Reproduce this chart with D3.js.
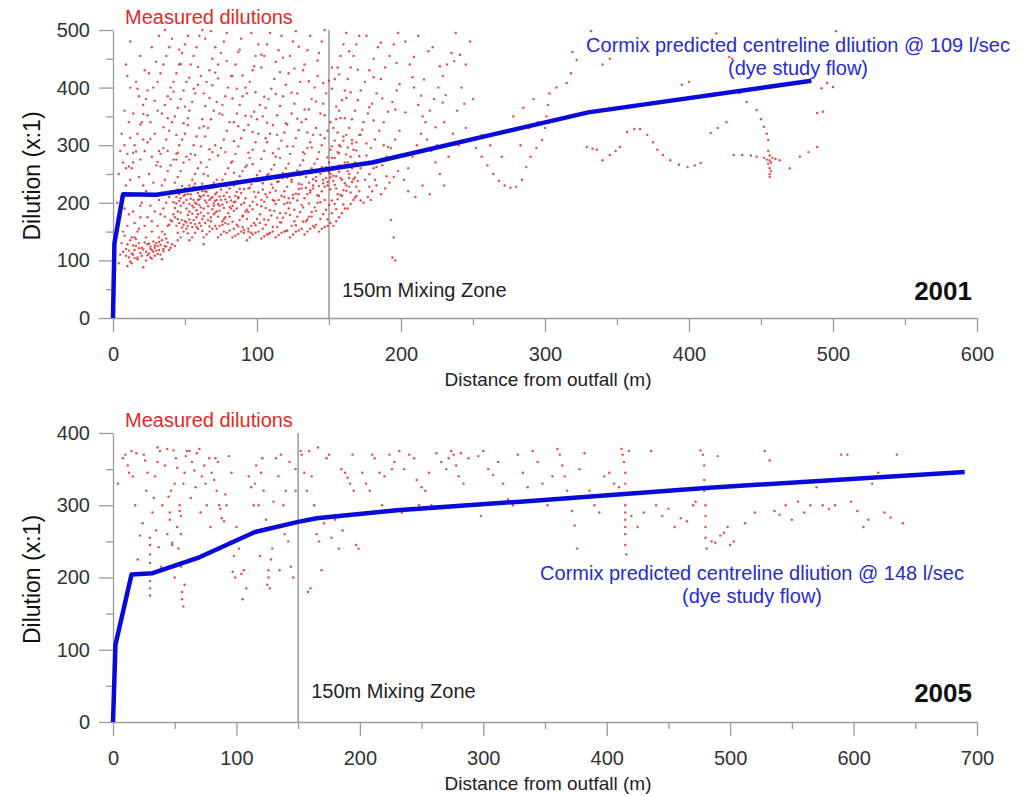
<!DOCTYPE html>
<html>
<head>
<meta charset="utf-8">
<script src="https://cdn.jsdelivr.net/npm/d3@7"></script>
<style>
  body { margin: 0; background: #fff; }
  svg text { font-family: "Liberation Sans", Arial, sans-serif; }
  .axis path, .axis line { stroke: #9a9a9a; stroke-width: 1.3; }
  .axis text { fill: #333; font-size: 20px; }
</style>
</head>
<body>
<div id="chart"></div>
<script>
// ---- 2001 survey ----
var xTicks2001 = [0, 100, 200, 300, 400, 500, 600];
var yTicks2001 = [0, 100, 200, 300, 400, 500];

// cormix predicted centreline dilution, 109 l/sec
var cormix2001 = [[0, 0], [1, 130], [7, 215], [30, 214], [180, 270], [330, 357], [485, 412]];

// measured dilutions near the outfall (dense cloud)
var near2001 = [
  [4,95],[5,110],[6,130],[7,150],[5,175],[8,190],[6,210],[9,230],[4,250],[7,270],[10,285],[8,300],[6,320],[11,105],[9,120],[12,135],[10,160],[11,180],[3,200],[12,240],[9,260],[11,340],[8,360],[12,400],[10,420],[5,290],[7,115],[10,90],[12,480],[9,440],
  [13,95],[14,110],[15,118],[16,125],[18,130],[13,140],[17,150],[15,165],[19,175],[14,185],[20,200],[16,215],[21,230],[18,245],[13,260],[19,275],[22,290],[15,300],[17,320],[20,340],[14,355],[21,370],[18,385],[16,410],[22,430],[19,455],[13,112],[20,122],[17,105],[21,88],[15,140],[22,160],[19,195],[14,270],[21,310],
  [23,100],[25,112],[27,118],[29,122],[31,125],[24,128],[26,120],[28,115],[30,130],[32,118],[23,140],[27,150],[31,160],[24,175],[29,185],[26,195],[32,205],[23,220],[28,235],[25,250],[30,265],[27,280],[32,290],[24,305],[29,320],[26,340],[31,360],[23,380],[28,400],[25,425],[30,445],[27,470],[32,490],[24,395],[31,410],[26,105],[29,108],[32,140],
  [33,110],[35,120],[37,124],[39,118],[41,128],[34,135],[36,145],[38,160],[40,170],[33,180],[35,190],[37,200],[39,210],[41,220],[34,230],[36,240],[38,255],[40,265],[42,275],[33,285],[35,295],[37,310],[39,325],[41,340],[34,355],[36,370],[38,385],[40,400],[42,410],[33,425],[35,440],[37,455],[39,470],[41,485],[36,500],[40,380],[38,290],[42,180],[34,150],
  [43,125],[45,135],[47,140],[49,150],[51,155],[44,160],[46,165],[48,170],[50,168],[52,160],[43,175],[45,185],[47,195],[49,200],[51,205],[44,210],[46,215],[48,220],[50,225],[52,215],[43,235],[45,245],[47,255],[49,270],[51,280],[44,285],[46,300],[48,310],[50,320],[52,335],[43,350],[45,365],[47,380],[49,395],[51,410],[44,425],[46,440],[48,460],[50,475],[52,490],[45,172],[49,162],[47,208],[51,190],[44,275],
  [53,135],[55,140],[57,148],[59,155],[61,160],[54,165],[56,170],[58,175],[60,165],[62,172],[53,185],[55,195],[57,200],[59,205],[61,210],[54,215],[56,205],[58,198],[60,212],[62,220],[53,230],[55,240],[57,250],[59,260],[61,270],[54,285],[56,300],[58,315],[60,330],[62,345],[53,360],[55,375],[57,390],[59,405],[61,420],[54,440],[56,455],[58,470],[60,490],[62,500],[55,158],[59,180],[61,192],[57,225],[53,275],
  [63,140],[65,145],[67,150],[69,155],[71,160],[64,165],[66,170],[68,175],[70,180],[72,185],[63,190],[65,200],[67,205],[69,210],[71,215],[64,220],[66,225],[68,230],[70,235],[72,240],[63,250],[65,262],[67,275],[69,288],[71,300],[64,315],[66,330],[68,345],[70,360],[72,375],[63,390],[65,410],[67,430],[69,450],[71,470],[64,485],[68,498],[70,195],[66,182],[72,205],
  [73,140],[75,145],[77,150],[79,148],[81,152],[74,160],[76,168],[78,175],[80,182],[82,190],[73,198],[75,205],[77,212],[79,218],[81,225],[74,232],[76,240],[78,250],[80,260],[82,270],[73,282],[75,295],[77,310],[79,325],[81,340],[74,355],[76,370],[78,385],[80,400],[82,420],[73,440],[75,460],[77,480],[79,495],[81,210],[74,195],[78,165],
  [83,140],[85,143],[87,146],[89,150],[91,148],[84,155],[86,162],[88,170],[90,178],[92,185],[83,195],[85,202],[87,210],[89,217],[91,224],[84,230],[86,238],[88,246],[90,255],[92,262],[83,272],[85,285],[87,298],[89,312],[91,326],[84,340],[86,355],[88,370],[90,385],[92,400],[83,420],[85,440],[87,462],[89,485],[91,200],[86,190],[90,158],
  [93,135],[95,140],[97,145],[99,148],[101,150],[94,155],[96,160],[98,165],[100,172],[102,180],[93,188],[95,195],[97,202],[99,210],[101,218],[94,225],[96,232],[98,240],[100,248],[102,255],[93,265],[95,278],[97,292],[99,305],[101,320],[94,335],[96,350],[98,358],[100,345],[102,370],[93,390],[95,410],[97,430],[99,455],[101,475],[96,495],[94,150],
  [103,138],[105,142],[107,145],[109,148],[111,150],[104,155],[106,162],[108,170],[110,178],[112,186],[103,194],[105,202],[107,210],[109,218],[111,226],[104,234],[106,242],[108,250],[110,258],[112,266],[103,276],[105,290],[107,305],[109,320],[111,335],[104,350],[106,365],[108,380],[110,398],[112,415],[103,435],[105,455],[107,475],[109,495],[111,205],[106,215],
  [113,140],[115,144],[117,148],[119,150],[121,152],[114,158],[116,166],[118,174],[120,182],[122,190],[113,198],[115,205],[117,212],[119,220],[121,228],[114,236],[116,244],[118,252],[120,260],[122,268],[113,280],[115,294],[117,308],[119,322],[121,336],[114,352],[116,368],[118,385],[120,405],[122,425],[113,445],[115,465],[117,490],[119,210],[121,200],
  [123,140],[125,145],[127,150],[129,152],[131,155],[124,160],[126,168],[128,176],[130,184],[132,192],[123,200],[125,208],[127,216],[129,224],[131,232],[124,240],[126,248],[128,256],[130,265],[132,274],[123,285],[125,298],[127,312],[129,326],[131,340],[124,355],[126,372],[128,390],[130,410],[132,430],[123,455],[125,480],[127,498],[129,215],[131,225],
  [133,145],[135,150],[137,155],[139,160],[141,162],[134,168],[136,176],[138,184],[140,192],[142,200],[133,208],[135,215],[137,222],[139,230],[141,238],[134,245],[136,252],[138,260],[140,268],[142,276],[133,285],[135,295],[137,305],[139,318],[141,330],[134,345],[136,362],[138,380],[140,400],[142,420],[133,440],[135,465],[137,490],[139,225],[141,245],[136,235],
  [143,150],[145,155],[147,158],[149,160],[151,165],[144,172],[146,180],[148,188],[150,196],[152,204],[143,212],[145,220],[147,228],[149,236],[151,244],[144,250],[146,256],[148,262],[150,270],[152,278],[143,288],[145,300],[147,312],[149,325],[151,340],[144,355],[146,372],[148,390],[150,412],[152,435],[143,460],[145,480],[147,500],[149,230],[151,250],[146,240],
  [153,160],[155,168],[157,175],[159,182],[161,190],[154,198],[156,206],[158,214],[160,222],[162,230],[153,238],[155,246],[157,254],[159,262],[161,270],[154,278],[156,288],[158,298],[160,308],[162,318],[153,330],[155,345],[157,360],[159,378],[161,395],[154,415],[156,435],[158,455],[160,475],[162,495],[155,225],[159,240],[157,300],
  [163,190],[165,198],[167,205],[169,212],[171,220],[164,228],[166,236],[168,244],[170,252],[172,260],[163,270],[165,280],[167,292],[169,305],[171,318],[164,330],[166,345],[168,360],[170,378],[172,395],[163,415],[165,435],[167,455],[169,475],[171,490],[168,270],[164,250],
  [174,200],[177,210],[180,220],[183,230],[175,240],[178,250],[181,260],[184,270],[176,282],[179,295],[182,310],[185,325],[174,340],[177,355],[180,372],[183,390],[175,410],[178,430],[181,450],[184,470],[176,490],[179,205],[182,240],
  [186,215],[189,225],[192,235],[195,245],[198,255],[187,265],[190,280],[193,295],[196,310],[199,325],[188,340],[191,358],[194,375],[197,395],[186,415],[189,435],[192,455],[195,475],[198,495],[193,170],[195,140],[194,105],[196,100],[188,300],
  [202,240],[205,260],[208,280],[211,300],[214,320],[217,340],[220,360],[223,380],[226,400],[229,420],[232,440],[235,460],[203,480],[206,440],[209,400],[212,370],[215,350],[218,310],[221,290],[224,270],[227,250],[230,230],[233,280],[236,320],[239,360],[242,400],[245,440],[248,480],[205,220],[210,210],[215,230],[220,215],[225,300],[230,340],[240,300],[245,330],[250,380],[212,490],[222,470],[238,495]
];

// denser clusters inside the near-field cloud
var cluster2001 = [
  [9,108],[11,117],[14,126],[17,102],[19,113],[22,131],[24,109],[26,124],[28,133],[31,111],[33,127],[35,116],[38,131],[40,122],[12,98],[16,137],[21,119],[27,103],[30,117],[34,102],[37,138],[25,129],[29,126],[23,115],[18,121],[36,125],[32,132],[20,108],[15,104],[10,128],
  [41,168],[43,191],[46,203],[48,157],[50,214],[52,179],[53,198],[55,221],[57,163],[58,187],[60,206],[62,151],[63,177],[65,219],[66,194],[68,168],[69,226],[71,183],[72,155],[74,211],[76,197],[77,172],[79,229],[80,163],[82,204],[84,186],[86,219],[87,159],[89,197],[90,176],
  [44,199],[47,183],[49,212],[51,166],[54,207],[56,192],[59,217],[61,183],[64,204],[67,159],[70,199],[73,176],[75,223],[78,206],[81,193],[83,167],[85,212],[88,224],[45,223],[56,228],[62,233],[68,208],[74,186],[79,201],[53,171],[58,158],[66,212],[71,203],[77,191],[84,201],[42,201],[48,229],[55,181],[60,196],[63,213],[69,189],[72,218],[76,162],[81,176],[87,208],
  [91,153],[93,172],[95,226],[97,189],[99,161],[101,239],[103,205],[105,171],[107,248],[109,187],[111,158],[113,221],[115,237],[117,166],[119,198],[121,244],[123,179],[125,214],[127,161],[129,233],[131,196],[133,254],[135,171],[137,218],[139,241],[141,186],[143,229],[145,262],[147,205],[149,171],[151,223],[153,247],[155,189],[157,265],[159,212],[161,234],[163,255],[165,218],[167,241],[169,228],
  [92,208],[96,148],[100,197],[104,223],[108,146],[112,203],[116,182],[120,151],[124,236],[128,204],[132,167],[136,199],[140,157],[144,201],[148,243],[152,182],[156,215],[160,197],[164,243],[168,209],[94,184],[98,219],[102,165],[106,191],[110,232],[114,174],[118,243],[122,208],[126,188],[130,248],[134,226],[138,176],[142,213],[146,234],[150,253],[154,231],[158,243],[162,221],[166,260],[170,238],
  [44,318],[52,347],[61,298],[67,382],[73,416],[84,307],[92,351],[98,437],[106,312],[113,389],[121,298],[128,346],[136,411],[144,318],[152,298],[158,347],[166,303],[173,327],[47,441],[56,398],[88,466],[118,452],[141,376],[162,382],[181,343],[196,362],[209,453],[227,437],[24,352],[31,271],[17,398],[12,313],
  [151,292],[154,308],[157,286],[160,315],[163,296],[166,309],[169,291],[172,318],[156,322],[162,284]
];

// scattered upper part of the near-field cloud
var upper2001 = [
  [11,263],[14,287],[19,336],[26,311],[29,377],[33,263],[38,347],[42,393],[46,466],[49,338],[53,417],[57,283],[59,436],[64,368],[67,293],[71,426],[76,353],[79,446],[83,381],[87,333],[90,421],[94,287],[99,392],[103,457],[107,339],[111,286],[116,427],[120,338],[124,391],[129,471],[133,362],[138,296],[142,447],[147,352],[152,398],[157,423],[161,347],[165,392],[170,431],[176,303],[181,418],[187,381],[191,297],[197,443],[203,357],[208,418],[214,386],[219,463],[224,331],[231,387],[237,446],[244,372],
  [16,289],[21,354],[35,331],[45,287],[50,367],[63,333],[69,404],[78,288],[86,398],[97,323],[105,384],[114,318],[126,433],[135,322],[146,408],[155,367],[164,463],[178,366],[186,478],[199,406],[216,414],[229,374],[241,457],
  [39,162],[52,147],[63,128],[27,168],[18,155],[8,143],[45,148],[36,176],[57,233],[66,247],[84,252],[97,267],[116,278],[132,288],[149,279],[171,281],[178,228],[183,262],[190,246],[172,204]
];

// measured dilutions further out (boat tracks)
var far2001 = [
  [248,309],[252,295],[256,280],[260,265],[264,250],[268,238],[272,230],[276,226],[280,228],[284,240],[287,262],[290,280],[294,295],[298,309],[300,330],[301,350],[302,370],[303,390],[308,400],[315,408],[318,425],[322,448],[319,462],[256,318],[262,300],[270,280],[278,350],[285,365],[292,380],[283,300],[289,330],[295,340],
  [329,297],[333,294],[336,292],[340,274],[345,283],[349,290],[352,297],[357,323],[362,328],[366,328],[371,318],[375,305],[378,292],[382,283],[387,274],[393,266],[399,262],[404,265],[408,269],
  [415,321],[420,330],[426,340],[431,283],[437,283],[443,282],[447,280],[452,278],[454,275],[456,274],[457,270],[455,268],[458,278],[456,282],[455,290],[456,260],[456,250],[456,245],[457,255],[460,276],[463,274],[470,260],[477,280],[483,288],[489,297],
  [435,390],[440,375],[447,361],[450,345],[452,332],[454,320],[455,309],[428,453],[430,450],[493,358],[496,408],[500,401],[489,356],[492,399],[332,498],[419,494],[502,498],[340,440],[345,450],[395,405],[400,410]
];

// ---- 2005 survey ----
var xTicks2005 = [0, 100, 200, 300, 400, 500, 600, 700];
var yTicks2005 = [0, 100, 200, 300, 400];

// cormix predicted centreline dilution, 148 l/sec
var cormix2005 = [[0, 0], [2, 107], [15, 204], [32, 206], [70, 228], [115, 263], [150, 277], [165, 282], [230, 293], [330, 305], [480, 324], [690, 346]];

var measured2005 = [
  [8,365],[4,330],[10,370],[13,345],[15,375],[18,300],[20,225],[22,258],[12,355],[16,340],[19,372],
  [24,275],[26,362],[28,345],[30,255],[30,245],[30,232],[30,220],[30,205],[30,195],[30,185],[30,175],[32,290],[34,340],[36,360],[38,375],[25,370],[33,310],[35,265],[37,242],[39,215],[40,300],[27,320],[36,380],
  [42,355],[44,378],[46,290],[46,280],[48,248],[48,245],[50,200],[50,330],[52,352],[52,270],[54,300],[54,292],[55,285],[55,260],[55,215],[56,180],[56,170],[57,160],[58,190],[58,345],[59,368],[60,375],[44,260],[47,320],[53,240],[51,365],[49,376],[45,312],[57,330],
  [62,375],[64,360],[66,348],[68,372],[70,378],[72,340],[74,355],[76,300],[78,365],[80,345],[63,310],[67,325],[71,290],[75,330],[79,270],
  [82,335],[84,320],[86,300],[88,282],[90,278],[92,300],[94,368],[96,345],[98,230],[100,270],[83,365],[87,295],[91,315],[95,250],[99,200],[97,208],[85,360],
  [102,240],[104,205],[106,210],[108,185],[110,340],[112,325],[114,300],[116,355],[118,300],[120,345],[122,320],[124,280],[125,190],[126,200],[126,210],[127,185],[128,225],[129,240],[130,305],[105,170],[115,330],[121,365],[119,230],
  [132,365],[134,340],[136,370],[138,300],[140,320],[142,250],[144,215],[146,200],[148,350],[148,320],[135,210],[143,360],[139,260],
  [153,370],[155,345],[157,320],[159,375],[161,340],[163,300],[165,260],[167,250],[169,210],[171,275],[173,365],[175,370],[177,255],[180,280],[183,240],[186,265],[188,345],[190,338],[192,330],[195,320],[197,245],[199,240],[152,375],[158,180],[160,185],[166,380],[185,350],[194,370],
  [202,345],[205,330],[208,320],[212,365],[216,345],[220,340],[224,370],[228,360],[232,375],[236,350],[240,370],[244,365],[248,300],[250,325],[253,320],[256,345],[258,300],[210,370],[218,300],[226,350],[234,290],[246,335],
  [262,372],[266,360],[270,350],[272,365],[274,375],[276,370],[278,355],[280,340],[284,330],[288,365],[292,300],[296,368],[300,375],[304,350],[308,342],[312,360],[316,330],[320,308],[324,300],[328,370],[282,372],[298,285],
  [332,345],[336,325],[340,375],[344,360],[348,330],[352,300],[356,340],[360,378],[362,370],[364,355],[366,340],[368,320],[370,310],[372,292],[374,272],[376,240],[378,350],[382,372],[386,320],[390,300],[394,290],[398,340],[402,345],[406,330],[410,325],[412,378],[413,370],[414,360],[415,345],[415,330],[415,315],[415,300],[415,290],[415,280],[415,270],[415,260],[415,245],[416,232],[418,375],[420,285],
  [425,270],[430,290],[436,375],[440,300],[445,285],[450,295],[455,270],[460,282],[465,278],[470,300],[476,376],[478,370],[479,355],[479,335],[479,320],[480,300],[480,285],[480,270],[480,255],[481,240],[482,322],[485,250],[488,248],[492,258],[495,262],[498,270],[500,245],[503,250],[472,305],[490,368],
  [512,275],[520,290],[528,375],[532,362],[536,292],[540,287],[545,300],[550,280],[555,305],[560,290],[565,300],[570,325],[575,300],[580,295],[585,300],[590,370],[595,370],[598,305],[603,292],[608,270],[612,280],[615,330],[620,345],[625,290],[630,283],[635,370],[640,275]
];

var svg = d3.select("#chart").append("svg")
  .attr("width", 1034)
  .attr("height", 796);

/*
 * DilutionPanel - one survey year
 */
DilutionPanel = function (_cfg) {
  this.cfg = _cfg;
  this.initVis();
};

DilutionPanel.prototype.initVis = function () {
  var vis = this;
  var c = vis.cfg;

  vis.x = d3.scaleLinear().domain([0, c.xMax]).range([c.left, c.right]);
  vis.y = d3.scaleLinear().domain([0, c.yMax]).range([c.bottom, c.top]);

  vis.g = svg.append("g");

  // minor ticks first, majors on top
  vis.g.append("g")
    .attr("class", "axis")
    .attr("transform", "translate(0," + c.bottom + ")")
    .call(d3.axisBottom(vis.x).tickValues(d3.range(50, c.xMax, 100)).tickSize(7).tickFormat(""))
    .call((g) => g.select(".domain").remove());

  vis.g.append("g")
    .attr("class", "axis")
    .attr("transform", "translate(" + c.left + ",0)")
    .call(d3.axisLeft(vis.y).tickValues(d3.range(50, c.yMax, 100)).tickSize(7).tickFormat(""))
    .call((g) => g.select(".domain").remove());

  vis.g.append("g")
    .attr("class", "axis")
    .attr("transform", "translate(0," + c.bottom + ")")
    .call(d3.axisBottom(vis.x).tickValues(c.xTicks).tickSize(14).tickSizeOuter(0).tickPadding(15));

  vis.g.append("g")
    .attr("class", "axis")
    .attr("transform", "translate(" + c.left + ",0)")
    .call(d3.axisLeft(vis.y).tickValues(c.yTicks).tickSize(14).tickSizeOuter(0).tickPadding(9));

  // 150m mixing zone
  vis.g.append("line")
    .attr("x1", vis.x(150)).attr("x2", vis.x(150))
    .attr("y1", vis.y(c.yMax)).attr("y2", vis.y(0))
    .attr("stroke", "#9a9a9a")
    .attr("stroke-width", 1.5);

  // measured dilutions
  vis.g.append("g")
    .selectAll("circle")
    .data(c.points)
    .join("circle")
    .attr("cx", (d) => vis.x(d[0]))
    .attr("cy", (d) => vis.y(d[1]))
    .attr("r", 1.2)
    .attr("fill", "#e02a2a")
    .attr("fill-opacity", 0.85);

  // cormix prediction
  vis.g.append("path")
    .datum(c.line)
    .attr("fill", "none")
    .attr("stroke", "#0a0ad8")
    .attr("stroke-width", 4.5)
    .attr("stroke-linejoin", "round")
    .attr("d", d3.line().x((d) => vis.x(d[0])).y((d) => vis.y(d[1])));

  // labels
  var yMid = (c.top + c.bottom) / 2 + 2;
  vis.g.append("text")
    .attr("transform", "translate(40," + yMid + ") rotate(-90)")
    .attr("text-anchor", "middle")
    .attr("font-size", 23)
    .attr("fill", "#111")
    .text("Dilution (x:1)");

  vis.g.append("text")
    .attr("x", 548)
    .attr("y", c.bottom + 68)
    .attr("text-anchor", "middle")
    .attr("font-size", 19)
    .attr("fill", "#222")
    .text("Distance from outfall (m)");

  vis.g.append("text")
    .attr("x", 125)
    .attr("y", c.top - 6)
    .attr("font-size", 20)
    .attr("fill", "#e02a2a")
    .text("Measured dilutions");

  vis.g.append("text")
    .attr("x", vis.x(150) + 13)
    .attr("y", c.mixY)
    .attr("font-size", 20)
    .attr("fill", "#222")
    .text("150m Mixing Zone");

  vis.g.append("text")
    .attr("x", 972)
    .attr("y", c.yearY)
    .attr("text-anchor", "end")
    .attr("font-size", 26)
    .attr("font-weight", "bold")
    .attr("fill", "#111")
    .text(c.year);

  var lbl = vis.g.append("text")
    .attr("text-anchor", "middle")
    .attr("font-size", 20)
    .attr("fill", "#2a2ad0");
  lbl.append("tspan").attr("x", c.noteX).attr("y", c.noteY)
    .text("Cormix predicted centreline dliution @ " + c.flow + " l/sec");
  lbl.append("tspan").attr("x", c.noteX).attr("y", c.noteY + 23)
    .text("(dye study flow)");
};

new DilutionPanel({
  xMax: 600, yMax: 500, left: 113, right: 977, top: 30, bottom: 318,
  xTicks: xTicks2001, yTicks: yTicks2001,
  points: near2001.concat(cluster2001, upper2001, far2001), line: cormix2001,
  year: "2001", yearY: 300, mixY: 297, flow: 109, noteX: 798, noteY: 52
});

new DilutionPanel({
  xMax: 700, yMax: 400, left: 113, right: 977, top: 433, bottom: 722,
  xTicks: xTicks2005, yTicks: yTicks2005,
  points: measured2005, line: cormix2005,
  year: "2005", yearY: 702, mixY: 698, flow: 148, noteX: 752, noteY: 580
});
</script>
</body>
</html>
